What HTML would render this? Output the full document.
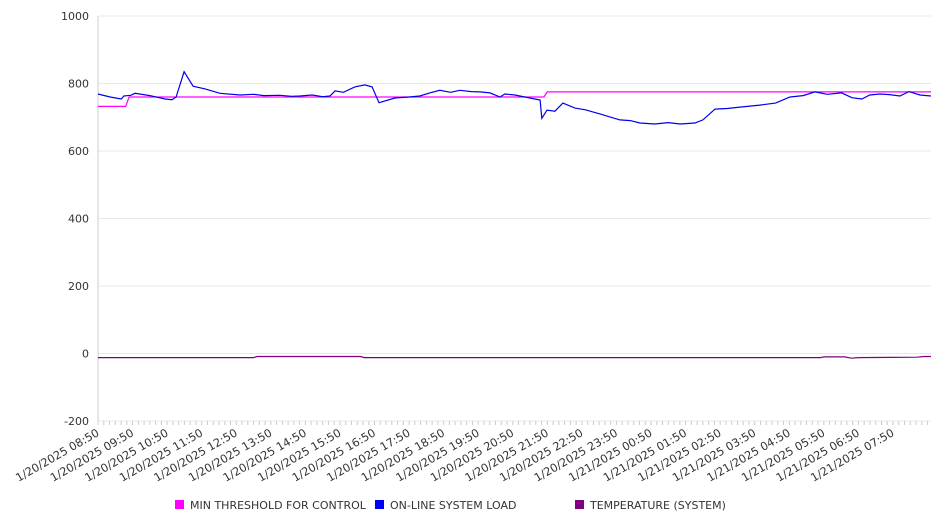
<!DOCTYPE html>
<html><head><meta charset="utf-8"><style>
html,body{margin:0;padding:0;background:#fff;}
svg{display:block;font-family:"DejaVu Sans","Liberation Sans",sans-serif;}
</style></head><body>
<svg id="chart" width="946" height="526" viewBox="0 0 946 526"></svg>
<script>
const yTicks=[1000,800,600,400,200,0,-200];
const xLabels=["1/20/2025 08:50","1/20/2025 09:50","1/20/2025 10:50","1/20/2025 11:50","1/20/2025 12:50","1/20/2025 13:50","1/20/2025 14:50","1/20/2025 15:50","1/20/2025 16:50","1/20/2025 17:50","1/20/2025 18:50","1/20/2025 19:50","1/20/2025 20:50","1/20/2025 21:50","1/20/2025 22:50","1/20/2025 23:50","1/21/2025 00:50","1/21/2025 01:50","1/21/2025 02:50","1/21/2025 03:50","1/21/2025 04:50","1/21/2025 05:50","1/21/2025 06:50","1/21/2025 07:50"];
const loadHours=[0,0.35,0.67,0.75,0.95,1.07,1.5,1.94,2.14,2.26,2.49,2.75,3.1,3.53,4.11,4.5,4.8,5.26,5.6,5.84,6.2,6.5,6.71,6.86,7.1,7.43,7.72,7.93,8.13,8.59,9.0,9.31,9.6,9.89,10.2,10.47,10.8,11.05,11.34,11.63,11.77,12.06,12.35,12.64,12.79,12.84,12.99,13.22,13.45,13.8,14.1,14.52,15.1,15.4,15.68,16.11,16.5,16.84,17.27,17.5,17.85,18.2,18.57,19.15,19.6,20.02,20.4,20.74,21.1,21.52,21.81,22.1,22.33,22.62,22.9,23.2,23.46,23.78,24.1];
const loadValues=[769,760,754,763,765,771,764,754,752,760,835,792,784,771,766,768,764,765,762,763,766,761,763,778,774,790,796,790,743,757,760,763,772,780,774,780,776,775,772,760,769,766,760,754,751,697,721,718,742,727,722,710,692,690,683,680,684,680,683,692,724,726,730,736,742,760,764,775,768,772,758,754,766,769,767,763,776,766,763];
const threshHours=[0,0.8,0.9,12.9,13.0,24.1];
const threshValues=[732,732,760,760,775,775];
const tempHours=[0,4.5,4.6,7.6,7.7,20.9,21.0,21.6,21.8,22.0,23.7,23.9,24.1];
const tempValues=[-12,-12,-9,-9,-12,-12,-10,-10,-14,-12,-11,-9,-9];
const NS="http://www.w3.org/2000/svg";
const svg=document.getElementById('chart');
const X0=98,X1=931,Y0=16,Y1=421,HMAX=24.1;
const xs=h=>X0+h*(X1-X0)/HMAX;
const ys=v=>Y1-(v+200)*(Y1-Y0)/1200;
function mk(t,a){const e=document.createElementNS(NS,t);for(const k in a)e.setAttribute(k,a[k]);svg.appendChild(e);return e;}
yTicks.forEach(v=>{
  const g=mk('line',{x1:X0,x2:X1,y1:ys(v),y2:ys(v),stroke:'#e8e8e8','stroke-width':1});
  
  
  const t=mk('text',{x:89,y:ys(v)+4,'text-anchor':'end','font-size':11,fill:'#333'});
  t.textContent=v;
  
  
});
const ax=mk('line',{x1:X0,x2:X0,y1:Y0,y2:Y1,stroke:'#ccc'});


for(let i=0;i<=144;i++){
  const x=xs(i/6);
  const tk=mk('line',{x1:x,x2:x,y1:Y1,y2:Y1+4,stroke:'#ccc'});
  
  
}
xLabels.forEach((l,i)=>{
  const x=xs(i)+2;
  const y=Y1+14;
  const t=mk('text',{x:x,y:y,'text-anchor':'end','font-size':11.3,fill:'#333',transform:`rotate(-30 ${x} ${y})`});
  t.textContent=l;
  
  
});
function series(hs,vs,color,name){
  const d=hs.map((h,i)=>(i?'L':'M')+xs(h).toFixed(1)+' '+ys(vs[i]).toFixed(1)).join(' ');
  const p=mk('path',{d:d,fill:'none',stroke:color,'stroke-width':1.2});
  
  
}
series(tempHours,tempValues,'#800080','temperature-line');
series(threshHours,threshValues,'#ff00ff','min-threshold-line');
series(loadHours,loadValues,'#0000ee','online-system-load-line');
const legend=[["MIN THRESHOLD FOR CONTROL","#ff00ff",175],["ON-LINE SYSTEM LOAD","#0000ff",375],["TEMPERATURE (SYSTEM)","#800080",575]];
legend.forEach(([l,c,x])=>{
  const r=mk('rect',{x:x,y:500,width:9,height:9,fill:c});
  
  
  const t=mk('text',{x:x+15,y:509,'font-size':11,fill:'#333'});
  t.textContent=l;
  
  
});
</script>
</body></html>
